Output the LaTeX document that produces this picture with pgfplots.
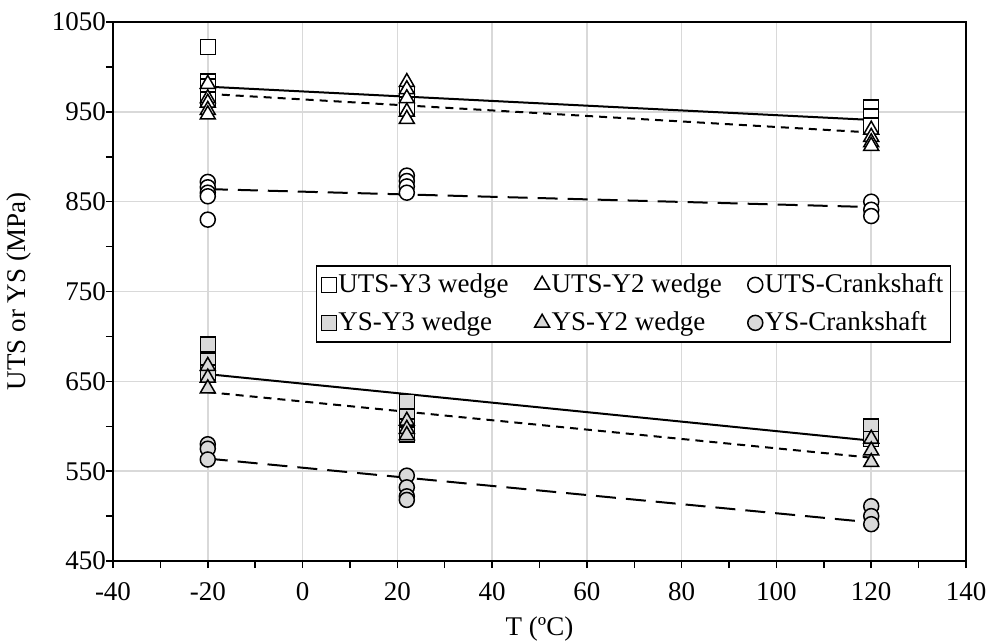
\documentclass[border=0pt]{standalone}
\usepackage{fontspec}
\setmainfont{Liberation Serif}
\usepackage{pgfplots}
\pgfplotsset{compat=1.18}
\definecolor{gridgray}{HTML}{D9D9D9}
\definecolor{ysfill}{HTML}{D9D9D9}

\begin{document}
\begin{tikzpicture}
\begin{axis}[
  scale only axis, width=426.5pt, height=269.5pt,
  xmin=-40, xmax=140, ymin=450, ymax=1050,
  xtick={-40,-20,...,140}, ytick={450,550,...,1050},
  minor x tick num=1, minor y tick num=1,
  tick align=outside, xtick pos=bottom, ytick pos=left,
  major tick length=3.5pt, minor tick length=3.5pt,
  tick style={black, line width=0.75pt},
  xmajorgrids, ymajorgrids,
  major grid style={gridgray, line width=0.75pt},
  axis line style={black, line width=0.75pt},
  font=\fontsize{13.5}{16}\selectfont,
  tick label style={font=\fontsize{13.5}{16}\selectfont},
  xticklabel style={yshift=-3.5pt},
  yticklabel style={xshift=3.5pt},
  /pgf/number format/assume math mode=true,
  /pgf/number format/1000 sep={},
  xlabel={T (ºC)}, ylabel={UTS or YS (MPa)},
  every axis x label/.style={at={(rel axis cs:0.5,0)}, yshift=-34pt, anchor=center},
  every axis y label/.style={at={(rel axis cs:0,0.5)}, xshift=-47pt, rotate=90, anchor=center},
  legend columns=3,
  legend image code/.code={\draw[mark repeat=1,#1] plot coordinates {(0pt,0pt)};},
  legend style={at={(0.9824,0.549)}, anchor=north east, draw=black, line width=0.75pt,
    fill=white, font=\fontsize{13.5}{16}\selectfont, inner xsep=2.5pt, inner ysep=2.5pt,
    row sep=5pt, nodes={inner xsep=1pt, inner ysep=1.5pt},
    /tikz/every even column/.append style={column sep=12pt}},
  legend cell align=left,
]
% UTS
\addplot[only marks, mark=square*, mark size=3.75pt, mark options={draw=black, fill=white, line width=0.75pt}]
  coordinates {(-20,1022) (-20,984) (-20,978) (-20,964)
               (22,970) (22,964) (22,958) (22,953)
               (120,955) (120,945) (120,935)};
\addlegendentry{UTS-Y3 wedge}
\addplot[only marks, mark=triangle*, mark size=4.3pt, mark options={draw=black, fill=white, line width=0.75pt}]
  coordinates {(-20,981) (-20,965) (-20,960) (-20,952) (-20,947)
               (22,983) (22,975) (22,965) (22,950) (22,942)
               (120,930) (120,922) (120,916) (120,912)};
\addlegendentry{UTS-Y2 wedge}
\addplot[only marks, mark=*, mark size=3.75pt, mark options={draw=black, fill=white, line width=0.75pt}]
  coordinates {(-20,872) (-20,866) (-20,860) (-20,856) (-20,830)
               (22,879) (22,873) (22,867) (22,860)
               (120,850) (120,841) (120,834)};
\addlegendentry{UTS-Crankshaft}
% YS
\addplot[only marks, mark=square*, mark size=3.75pt, mark options={draw=black, fill=ysfill, line width=0.75pt}]
  coordinates {(-20,691) (-20,673) (-20,660)
               (22,627) (22,611) (22,600) (22,591)
               (120,600) (120,586)};
\addlegendentry{YS-Y3 wedge}
\addplot[only marks, mark=triangle*, mark size=4.3pt, mark options={draw=black, fill=ysfill, line width=0.75pt}]
  coordinates {(-20,667) (-20,654) (-20,642)
               (22,606) (22,597) (22,590)
               (120,586) (120,573) (120,560)};
\addlegendentry{YS-Y2 wedge}
\addplot[only marks, mark=*, mark size=3.75pt, mark options={draw=black, fill=ysfill, line width=0.75pt}]
  coordinates {(-20,580) (-20,575) (-20,563)
               (22,545) (22,532) (22,522) (22,518)
               (120,511) (120,500) (120,491)};
\addlegendentry{YS-Crankshaft}
% trend lines
\addplot[forget plot, black, line width=1pt] coordinates {(-20,978) (120,941)};
\addplot[forget plot, black, line width=1pt, dash pattern=on 4pt off 3pt] coordinates {(-20,970) (120,927)};
\addplot[forget plot, black, line width=1pt, dash pattern=on 10pt off 5pt] coordinates {(-20,864) (120,844)};
\addplot[forget plot, black, line width=1pt] coordinates {(-20,658) (120,584)};
\addplot[forget plot, black, line width=1pt, dash pattern=on 4pt off 3pt] coordinates {(-20,638) (120,565)};
\addplot[forget plot, black, line width=1pt, dash pattern=on 10pt off 5pt] coordinates {(-20,564) (120,493)};
\coordinate (sw) at (rel axis cs:0,0);
\coordinate (ne) at (rel axis cs:1,1);
\end{axis}
\pgfresetboundingbox
\path ([shift={(-56.5pt,-40.5pt)}]sw) rectangle ([shift={(10.5pt,11pt)}]ne);
\end{tikzpicture}
\end{document}
